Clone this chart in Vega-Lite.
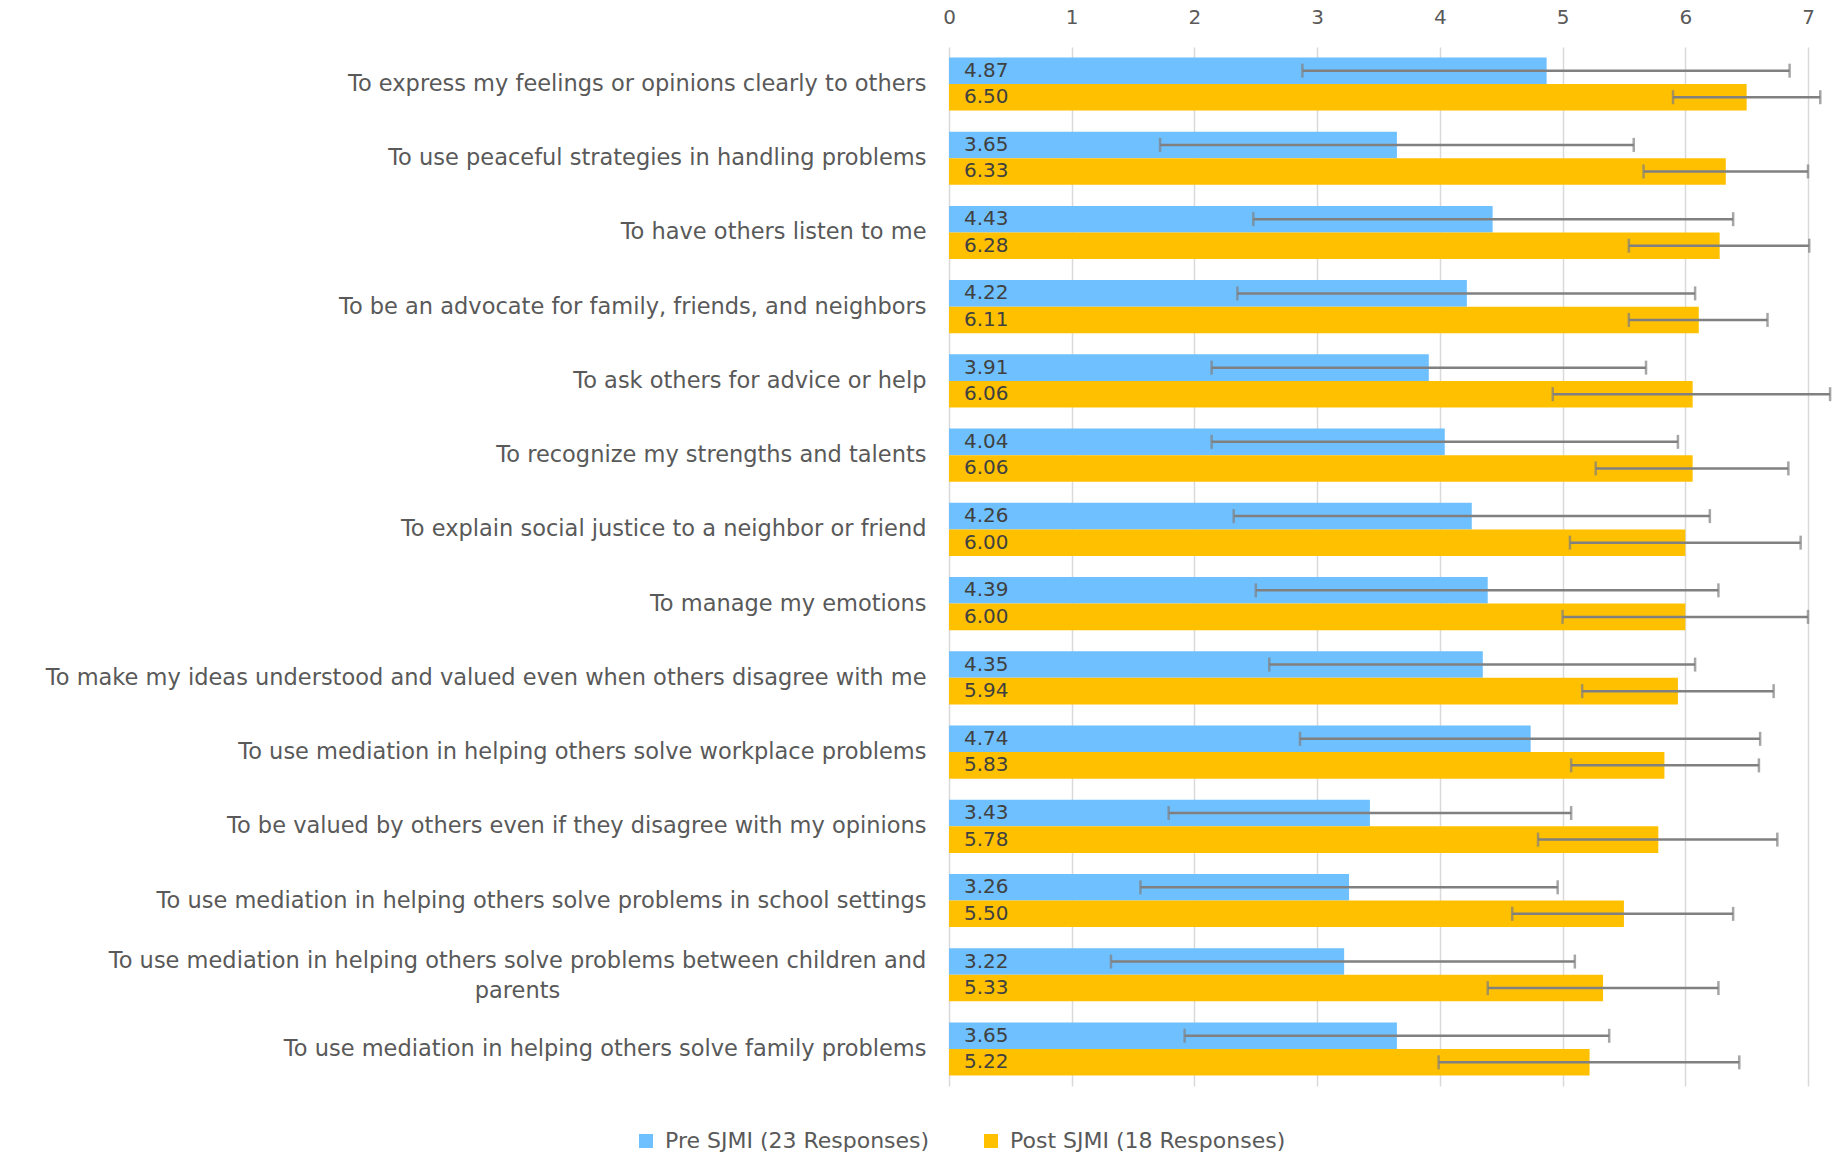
{
  "$schema": "https://vega.github.io/schema/vega-lite/v6.json",
  "width": 859,
  "height": 1039,
  "autosize": {"type": "none"},
  "padding": {"left": 949, "top": 47, "right": 33, "bottom": 71},
  "background": "white",
  "config": {"view": {"stroke": null}, "font": "DejaVu Sans"},
  "data": {"values": [
    {"item": "To express my feelings or opinions clearly to others", "series": "Pre SJMI (23 Responses)", "mean": 4.87, "lo": 2.88, "hi": 6.85},
    {"item": "To express my feelings or opinions clearly to others", "series": "Post SJMI (18 Responses)", "mean": 6.50, "lo": 5.90, "hi": 7.10},
    {"item": "To use peaceful strategies in handling problems", "series": "Pre SJMI (23 Responses)", "mean": 3.65, "lo": 1.72, "hi": 5.58},
    {"item": "To use peaceful strategies in handling problems", "series": "Post SJMI (18 Responses)", "mean": 6.33, "lo": 5.66, "hi": 7.00},
    {"item": "To have others listen to me", "series": "Pre SJMI (23 Responses)", "mean": 4.43, "lo": 2.48, "hi": 6.39},
    {"item": "To have others listen to me", "series": "Post SJMI (18 Responses)", "mean": 6.28, "lo": 5.54, "hi": 7.01},
    {"item": "To be an advocate for family, friends, and neighbors", "series": "Pre SJMI (23 Responses)", "mean": 4.22, "lo": 2.35, "hi": 6.08},
    {"item": "To be an advocate for family, friends, and neighbors", "series": "Post SJMI (18 Responses)", "mean": 6.11, "lo": 5.54, "hi": 6.67},
    {"item": "To ask others for advice or help", "series": "Pre SJMI (23 Responses)", "mean": 3.91, "lo": 2.14, "hi": 5.68},
    {"item": "To ask others for advice or help", "series": "Post SJMI (18 Responses)", "mean": 6.06, "lo": 4.92, "hi": 7.18},
    {"item": "To recognize my strengths and talents", "series": "Pre SJMI (23 Responses)", "mean": 4.04, "lo": 2.14, "hi": 5.94},
    {"item": "To recognize my strengths and talents", "series": "Post SJMI (18 Responses)", "mean": 6.06, "lo": 5.27, "hi": 6.84},
    {"item": "To explain social justice to a neighbor or friend", "series": "Pre SJMI (23 Responses)", "mean": 4.26, "lo": 2.32, "hi": 6.20},
    {"item": "To explain social justice to a neighbor or friend", "series": "Post SJMI (18 Responses)", "mean": 6.00, "lo": 5.06, "hi": 6.94},
    {"item": "To manage my emotions", "series": "Pre SJMI (23 Responses)", "mean": 4.39, "lo": 2.50, "hi": 6.27},
    {"item": "To manage my emotions", "series": "Post SJMI (18 Responses)", "mean": 6.00, "lo": 5.00, "hi": 7.00},
    {"item": "To make my ideas understood and valued even when others disagree with me", "series": "Pre SJMI (23 Responses)", "mean": 4.35, "lo": 2.61, "hi": 6.08},
    {"item": "To make my ideas understood and valued even when others disagree with me", "series": "Post SJMI (18 Responses)", "mean": 5.94, "lo": 5.16, "hi": 6.72},
    {"item": "To use mediation in helping others solve workplace problems", "series": "Pre SJMI (23 Responses)", "mean": 4.74, "lo": 2.86, "hi": 6.61},
    {"item": "To use mediation in helping others solve workplace problems", "series": "Post SJMI (18 Responses)", "mean": 5.83, "lo": 5.07, "hi": 6.60},
    {"item": "To be valued by others even if they disagree with my opinions", "series": "Pre SJMI (23 Responses)", "mean": 3.43, "lo": 1.79, "hi": 5.07},
    {"item": "To be valued by others even if they disagree with my opinions", "series": "Post SJMI (18 Responses)", "mean": 5.78, "lo": 4.80, "hi": 6.75},
    {"item": "To use mediation in helping others solve problems in school settings", "series": "Pre SJMI (23 Responses)", "mean": 3.26, "lo": 1.56, "hi": 4.96},
    {"item": "To use mediation in helping others solve problems in school settings", "series": "Post SJMI (18 Responses)", "mean": 5.50, "lo": 4.59, "hi": 6.39},
    {"item": "To use mediation in helping others solve problems between children and parents", "series": "Pre SJMI (23 Responses)", "mean": 3.22, "lo": 1.32, "hi": 5.10},
    {"item": "To use mediation in helping others solve problems between children and parents", "series": "Post SJMI (18 Responses)", "mean": 5.33, "lo": 4.39, "hi": 6.27},
    {"item": "To use mediation in helping others solve family problems", "series": "Pre SJMI (23 Responses)", "mean": 3.65, "lo": 1.92, "hi": 5.38},
    {"item": "To use mediation in helping others solve family problems", "series": "Post SJMI (18 Responses)", "mean": 5.22, "lo": 3.99, "hi": 6.44}
  ]},
  "encoding": {
    "y": {
      "field": "item", "type": "nominal", "sort": null,
      "scale": {"paddingInner": 0.285, "paddingOuter": 0.14},
      "axis": {
        "title": null, "ticks": false, "domain": false,
        "labelFontSize": 22.5, "labelColor": "#595959",
        "labelLimit": 0, "labelLineHeight": 30,
        "labelPadding": {"condition": {"test": "indexof(datum.value, 'children and parents') >= 0", "value": 432}, "value": 23},
        "labelAlign": {"condition": {"test": "indexof(datum.value, 'children and parents') >= 0", "value": "center"}, "value": "right"},
        "labelOffset": {"condition": {"test": "indexof(datum.value, 'children and parents') >= 0", "value": -14}, "value": 0},
        "labelExpr": "indexof(datum.value, 'children and parents') >= 0 ? ['To use mediation in helping others solve problems between children and', 'parents'] : datum.value"
      }
    },
    "yOffset": {
      "field": "series", "type": "nominal",
      "sort": ["Pre SJMI (23 Responses)", "Post SJMI (18 Responses)"]
    }
  },
  "layer": [
    {
      "mark": {"type": "bar"},
      "encoding": {
        "x": {
          "field": "mean", "type": "quantitative",
          "scale": {"domain": [0, 7], "nice": false},
          "axis": {
            "orient": "top", "title": null, "values": [0, 1, 2, 3, 4, 5, 6, 7], "format": "d",
            "ticks": false, "domain": false, "grid": true, "labelFlush": false,
            "gridColor": "#D9D9D9", "gridWidth": 1.5,
            "labelFontSize": 20, "labelColor": "#595959", "labelPadding": 20
          }
        },
        "color": {
          "field": "series", "type": "nominal",
          "scale": {"domain": ["Pre SJMI (23 Responses)", "Post SJMI (18 Responses)"], "range": ["#6FC0FF", "#FFC000"]},
          "legend": {
            "title": null, "orient": "none", "direction": "horizontal",
            "legendX": -314, "legendY": 1083,
            "symbolType": "square", "symbolSize": 196, "symbolStrokeWidth": 0,
            "labelFontSize": 22, "labelColor": "#595959", "labelOffset": 8,
            "columnPadding": 50, "labelLimit": 0
          }
        }
      }
    },
    {
      "mark": {"type": "rule", "color": "#808080", "strokeWidth": 2.5},
      "encoding": {
        "x": {"field": "lo", "type": "quantitative"},
        "x2": {"field": "hi"}
      }
    },
    {
      "mark": {"type": "tick", "color": "#808080", "thickness": 2.5, "size": 14},
      "encoding": {"x": {"field": "lo", "type": "quantitative"}}
    },
    {
      "mark": {"type": "tick", "color": "#808080", "thickness": 2.5, "size": 14},
      "encoding": {"x": {"field": "hi", "type": "quantitative"}}
    },
    {
      "mark": {"type": "text", "align": "left", "baseline": "middle", "dx": 15, "fontSize": 20, "color": "#404040"},
      "encoding": {
        "x": {"datum": 0, "type": "quantitative"},
        "text": {"field": "mean", "type": "quantitative", "format": ".2f"}
      }
    }
  ]
}
